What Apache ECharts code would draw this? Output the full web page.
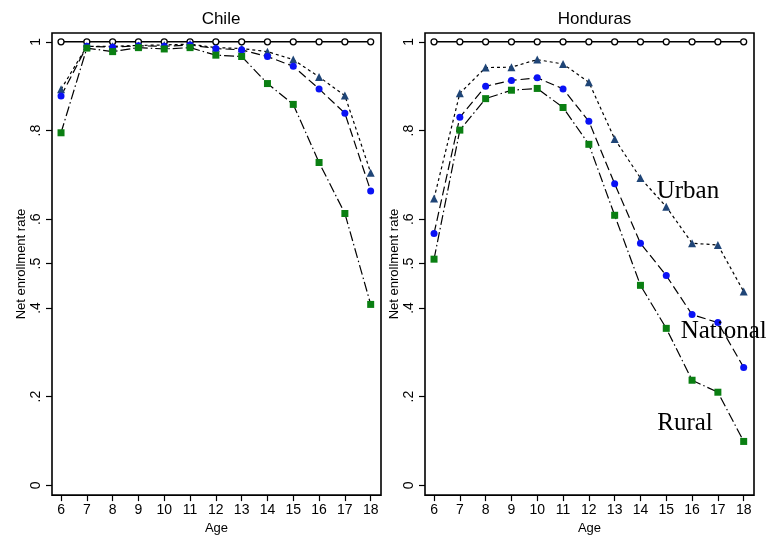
<!DOCTYPE html>
<html>
<head>
<meta charset="utf-8">
<script src="https://cdn.jsdelivr.net/npm/echarts@6/dist/echarts.min.js"></script>
<style>
html,body{margin:0;padding:0;background:#fff;}
#c{width:766px;height:540px;}
</style>
</head>
<body>
<div id="c"></div>
<script>
const ages = [6, 7, 8, 9, 10, 11, 12, 13, 14, 15, 16, 17, 18];
const yTicks = [0, 0.2, 0.4, 0.5, 0.6, 0.8, 1];
const panels = ['Chile', 'Honduras'];
const reference = [1, 1, 1, 1, 1, 1, 1, 1, 1, 1, 1, 1, 1];

const chileUrban    = [0.893, 0.990, 0.990, 0.992, 0.993, 0.995, 0.987, 0.985, 0.978, 0.960, 0.921, 0.879, 0.705];
const chileNational = [0.878, 0.990, 0.988, 0.991, 0.990, 0.993, 0.985, 0.982, 0.967, 0.945, 0.894, 0.839, 0.664];
const chileRural    = [0.795, 0.986, 0.978, 0.987, 0.984, 0.987, 0.970, 0.967, 0.906, 0.859, 0.728, 0.613, 0.408];

const hondurasUrban    = [0.647, 0.884, 0.942, 0.943, 0.960, 0.950, 0.909, 0.781, 0.693, 0.628, 0.546, 0.542, 0.437];
const hondurasNational = [0.568, 0.830, 0.900, 0.913, 0.919, 0.894, 0.821, 0.680, 0.546, 0.473, 0.385, 0.367, 0.266];
const hondurasRural    = [0.510, 0.801, 0.872, 0.891, 0.895, 0.852, 0.769, 0.609, 0.451, 0.354, 0.237, 0.210, 0.099];

const annotLabels = ['Urban', 'National', 'Rural'];

const pairs = arr => ages.map((a, i) => [a, arr[i]]);
const fmtY = v => (v === 0 ? '0' : v === 1 ? '1' : String(v).replace(/^0\./, '.'));

const chart = echarts.init(document.getElementById('c'), null, {renderer: 'canvas'});

const grids = [
  {left: 52, top: 33, width: 329, height: 466, show: true, borderColor: '#000', borderWidth: 1.6, backgroundColor: '#fff'},
  {left: 425, top: 33, width: 329, height: 466, show: true, borderColor: '#000', borderWidth: 1.6, backgroundColor: '#fff'}
];

const xAxes = [0, 1].map(i => ({
  type: 'value', gridIndex: i, min: 5.65, max: 18.4, position: 'bottom',
  name: 'Age', nameLocation: 'middle', nameGap: 25,
  nameTextStyle: {fontFamily: 'Liberation Sans', fontSize: 13, color: '#000'},
  axisLine: {show: false, onZero: false},
  splitLine: {show: false},
  axisTick: {show: true, length: 6, inside: false, customValues: ages, lineStyle: {color: '#000', width: 1.2}},
  axisLabel: {customValues: ages, margin: 8, fontFamily: 'Liberation Sans', fontSize: 14, color: '#000'}
}));

const yAxes = [0, 1].map(i => ({
  type: 'value', gridIndex: i, min: -0.022, max: 1.02, position: 'left',
  name: 'Net enrollment rate', nameLocation: 'middle', nameGap: 24,
  nameTextStyle: {fontFamily: 'Liberation Sans', fontSize: 13, color: '#000'},
  axisLine: {show: false, onZero: false},
  splitLine: {show: false},
  axisTick: {show: true, length: 6, customValues: yTicks, lineStyle: {color: '#000', width: 1.2}},
  axisLabel: {customValues: yTicks, rotate: 90, margin: 9, formatter: fmtY, fontFamily: 'Liberation Sans', fontSize: 14, color: '#000'}
}));

function mkSeries(idx, data, opts) {
  return Object.assign({
    type: 'line', xAxisIndex: idx, yAxisIndex: idx, data: pairs(data),
    animation: false, clip: false
  }, opts);
}

const series = [];
const sets = [
  [chileUrban, chileNational, chileRural],
  [hondurasUrban, hondurasNational, hondurasRural]
];
sets.forEach((s, idx) => {
  series.push(mkSeries(idx, reference, {
    name: 'Reference', symbol: 'circle', symbolSize: 6, showAllSymbol: true,
    itemStyle: {color: '#fff', borderColor: '#000', borderWidth: 1.3},
    lineStyle: {color: '#000', width: 1.5, type: 'solid'}
  }));
  series.push(mkSeries(idx, s[0], {
    name: 'Urban', symbol: 'triangle', symbolSize: 8, showAllSymbol: true,
    itemStyle: {color: '#1f4577'},
    lineStyle: {color: '#000', width: 1.2, type: [3, 3]}
  }));
  series.push(mkSeries(idx, s[1], {
    name: 'National', symbol: 'circle', symbolSize: 7, showAllSymbol: true,
    itemStyle: {color: '#0a12f5'},
    lineStyle: {color: '#000', width: 1.2, type: [9, 4]}
  }));
  series.push(mkSeries(idx, s[2], {
    name: 'Rural', symbol: 'rect', symbolSize: 7, showAllSymbol: true,
    itemStyle: {color: '#0a7f12'},
    lineStyle: {color: '#000', width: 1.2, type: [10, 3, 1.5, 3]}
  }));
});

const option = {
  backgroundColor: '#fff',
  animation: false,
  title: panels.map((t, i) => ({
    text: t, left: i === 0 ? 216 : 589.5, top: 6, textAlign: 'center',
    textStyle: {fontFamily: 'Liberation Sans', fontSize: 17, fontWeight: 'normal', color: '#000'}
  })),
  grid: grids,
  xAxis: xAxes,
  yAxis: yAxes,
  series: series
};
chart.setOption(option);

// Honduras annotations placed in data coordinates of the second panel
const annotPos = [[14.63, 0.663], [15.56, 0.348], [14.65, 0.139]];
const graphics = annotLabels.map((t, i) => {
  const p = chart.convertToPixel({gridIndex: 1}, annotPos[i]);
  return {
    type: 'text', x: p[0], y: p[1], z: 100,
    style: {text: t, fontFamily: 'Liberation Serif', fontSize: 25, fill: '#000', verticalAlign: 'middle', align: 'left'}
  };
});
chart.setOption({graphic: graphics});
</script>
</body>
</html>
